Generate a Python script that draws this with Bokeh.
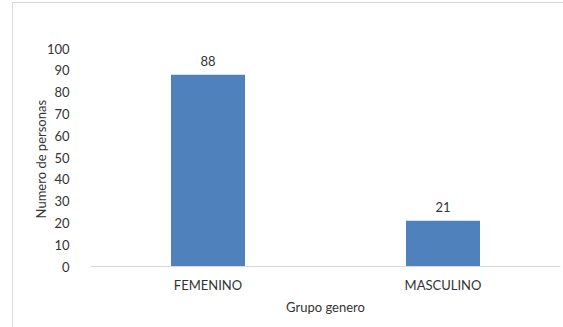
from bokeh.plotting import figure
from bokeh.models import ColumnDataSource, FixedTicker, InlineStyleSheet
from bokeh.core.properties import value
from bokeh.embed import file_html
from bokeh.resources import INLINE

categories = ["FEMENINO", "MASCULINO"]
counts = [88, 21]
y_ticks = [0, 10, 20, 30, 40, 50, 60, 70, 80, 90, 100]

src = ColumnDataSource(dict(cat=categories, val=counts, lbl=[str(v) for v in counts]))

FONT = "Lato"
p = figure(x_range=categories, y_range=(0, 100), width=563, height=327,
           output_backend="svg", toolbar_location=None,
           min_border_left=90, min_border_right=3, min_border_top=48, min_border_bottom=61)
p.outline_line_color = None
p.xgrid.grid_line_color = None
p.ygrid.grid_line_color = None
p.x_range.range_padding = 0.0

p.vbar(x="cat", top="val", width=0.315, source=src, fill_color="#4F81BD", line_color=None)
p.text(x="cat", y="val", text="lbl", source=src, text_align="center", text_baseline="middle",
       y_offset=-14, text_font=value(FONT), text_font_size="13px", text_color="#333333")

yax = p.yaxis[0]
yax.ticker = FixedTicker(ticks=y_ticks)
yax.axis_line_color = None
yax.major_tick_line_color = None
yax.minor_tick_line_color = None
yax.major_label_standoff = 15
yax.major_label_text_font = FONT
yax.major_label_text_font_size = "13px"
yax.major_label_text_color = "#333333"
yax.axis_label = "Numero de  personas"
yax.axis_label_text_font = FONT
yax.axis_label_text_font_size = "13px"
yax.axis_label_text_font_style = "normal"
yax.axis_label_text_color = "#333333"
yax.axis_label_standoff = -5

xax = p.xaxis[0]
xax.axis_line_color = "#D9D9D9"
xax.axis_line_width = 1
xax.major_tick_line_color = None
xax.minor_tick_line_color = None
xax.major_label_standoff = 4
xax.major_label_text_font = FONT
xax.major_label_text_font_size = "13px"
xax.major_label_text_color = "#333333"
xax.axis_label = "Grupo genero"
xax.axis_label_text_font = FONT
xax.axis_label_text_font_size = "13px"
xax.axis_label_text_font_style = "normal"
xax.axis_label_text_color = "#333333"
xax.axis_label_standoff = 3

p.stylesheets = [InlineStyleSheet(css="""
:host::after {
  content: "";
  position: absolute;
  left: 12px; top: 2px; right: 0px; bottom: 0px;
  border-left: 1px solid #D9D9D9;
  border-top: 1px solid #D9D9D9;
  pointer-events: none;
}
""")]

open("out.html", "w").write(file_html(p, INLINE))
